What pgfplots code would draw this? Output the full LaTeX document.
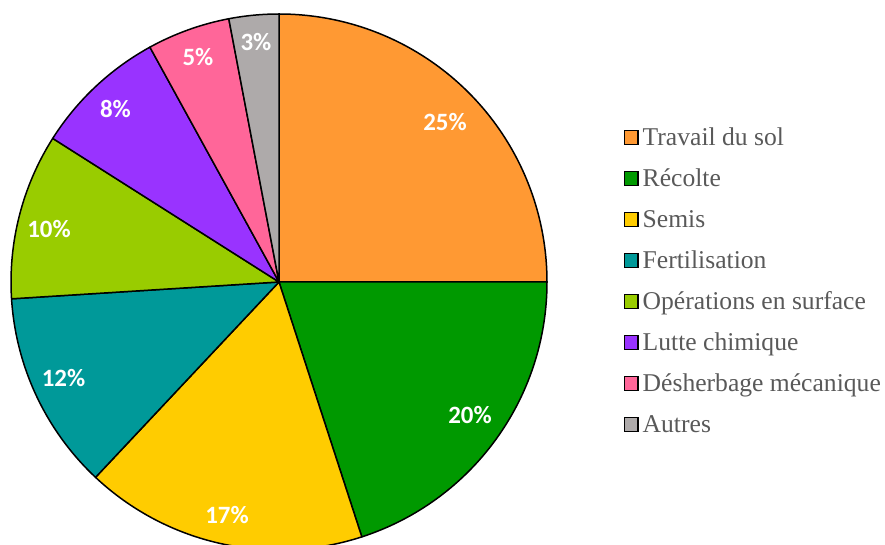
\documentclass[border=0pt]{standalone}
\usepackage{fontspec}
\setmainfont{Liberation Serif}
\newfontfamily\carlito{Carlito}
\usepackage{pgfplots}
\pgfplotsset{compat=1.18}
\definecolor{cA}{HTML}{FF9933}
\definecolor{cB}{HTML}{009900}
\definecolor{cC}{HTML}{FFCC00}
\definecolor{cD}{HTML}{009999}
\definecolor{cE}{HTML}{99CC00}
\definecolor{cF}{HTML}{9933FF}
\definecolor{cG}{HTML}{FF6699}
\definecolor{cH}{HTML}{AEAAAA}
\definecolor{txtgray}{HTML}{595959}
% slice: #1 cumulative start (%), #2 value (%), #3 colour
\newcommand{\slice}[3]{%
  \filldraw[fill=#3, draw=black, line width=1.5bp, line join=round]
    (axis cs:279,263) -- ++({90-3.6*#1}:268bp)
    arc[start angle={90-3.6*#1}, end angle={90-3.6*(#1+#2)}, radius=268bp] -- cycle;}
\newcommand{\plabel}[3]{%
  \node[anchor=base, inner sep=0pt, text=white, font=\carlito\bfseries\fontsize{25}{30}\selectfont] at (axis cs:#1,#2-1.5) {#3\%};}
\newcommand{\lentry}[3]{%
  \draw[fill=#2, draw=black, line width=1.8bp] (axis cs:624.5,#1+0.5) rectangle (axis cs:638,#1+14.5);
  \node[anchor=base west, inner sep=0pt, text=txtgray, font=\fontsize{25.7}{30}\selectfont] at (axis cs:642.5,#1-0.5) {#3};}
\begin{document}
\begin{tikzpicture}
\begin{axis}[scale only axis, width=885bp, height=545bp,
  xmin=0, xmax=885, ymin=0, ymax=545, hide axis, clip=false]
\coordinate (LL) at (axis cs:0,0);
\coordinate (UR) at (axis cs:885,545);
% values (%): 25, 20, 17, 12, 10, 8, 5, 3
\slice{0}{25}{cA}
\slice{25}{20}{cB}
\slice{45}{17}{cC}
\slice{62}{12}{cD}
\slice{74}{10}{cE}
\slice{84}{8}{cF}
\slice{92}{5}{cG}
\slice{97}{3}{cH}
\plabel{445}{416}{25}
\plabel{470}{123}{20}
\plabel{227}{23}{17}
\plabel{63.5}{160}{12}
\plabel{49}{309}{10}
\plabel{115.5}{429}{8}
\plabel{198}{481}{5}
\plabel{256}{496}{3}
\lentry{400}{cA}{Travail du sol}
\lentry{359}{cB}{Récolte}
\lentry{318}{cC}{Semis}
\lentry{277}{cD}{Fertilisation}
\lentry{236}{cE}{Opérations en surface}
\lentry{195}{cF}{Lutte chimique}
\lentry{154}{cG}{Désherbage mécanique}
\lentry{113}{cH}{Autres}
\end{axis}
\pgfresetboundingbox
\path[use as bounding box] (LL) rectangle (UR);
\end{tikzpicture}
\end{document}
